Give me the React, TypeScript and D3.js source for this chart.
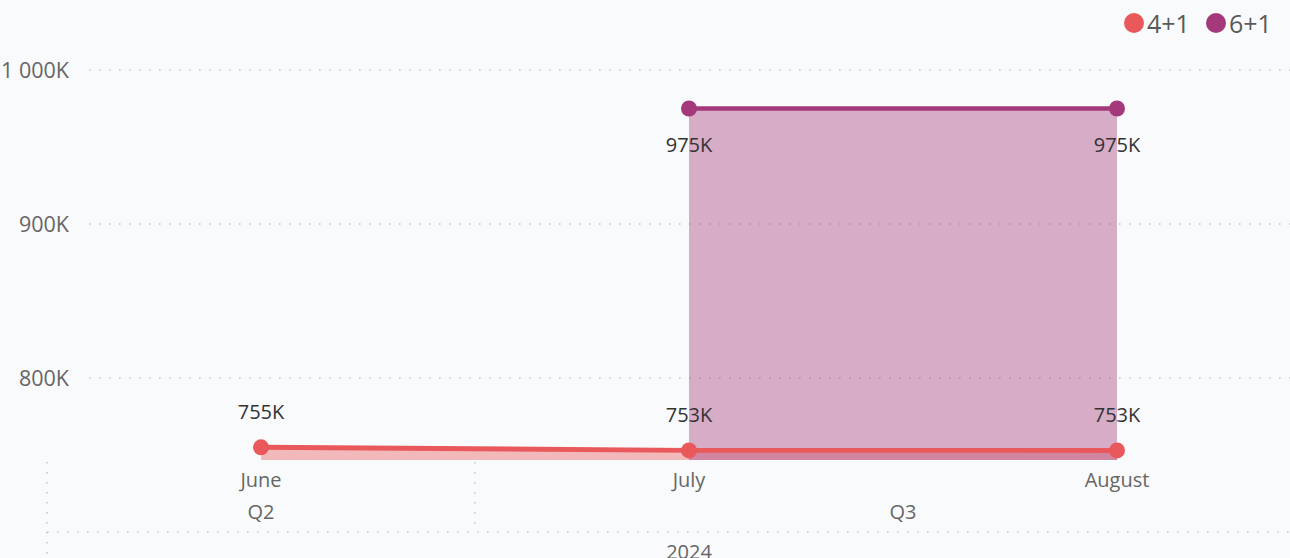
import React from "react";
import * as d3 from "d3";

const months = ["June", "July", "August"];
const quarters = [
  { label: "Q2", months: ["June"] },
  { label: "Q3", months: ["July", "August"] },
];
const year = "2024";
const series41: (number | null)[] = [755000, 753000, 753000];
const series61: (number | null)[] = [null, 975000, 975000];
const yTicks = [800000, 900000, 1000000];
const yTickLabels = ["800K", "900K", "1 000K"];
const legendNames = ["4+1", "6+1"];

const W = 1290;
const H = 558;
const RED = "#E9585B";
const PURPLE = "#A3387B";
const FONT = "'Open Sans', 'Noto Sans', sans-serif";

const fmtK = (v: number) => `${Math.round(v / 1000)}K`;

export default function App() {
  const x = d3.scaleBand<string>().domain(months).range([47, 1331]).padding(0);
  const cx = (m: string) => (x(m) as number) + x.bandwidth() / 2;
  const y = d3.scaleLinear().domain([746750, 1000000]).range([460, 70]);
  const base = y(746750);

  const line = d3
    .line<number | null>()
    .defined((d) => d != null)
    .x((_, i) => cx(months[i]))
    .y((d) => y(d as number));
  const area = d3
    .area<number | null>()
    .defined((d) => d != null)
    .x((_, i) => cx(months[i]))
    .y0(base)
    .y1((d) => y(d as number));

  // dotted grey rule used for gridlines and axis dividers
  const dot = { stroke: "#C8C8C8", strokeWidth: 1.6, strokeDasharray: "1.6 8.4" };

  return (
    <div style={{ position: "fixed", left: 0, top: 0 }}>
      <svg width={W} height={H} style={{ display: "block", fontFamily: FONT }}>
        <rect width={W} height={H} fill="#F9FAFB" />

        {/* gridlines + y labels */}
        {yTicks.map((t, i) => (
          <g key={t}>
            <line x1={89} x2={W} y1={y(t)} y2={y(t)} {...dot} />
            <text x={69} y={y(t) + 8} textAnchor="end" fontSize={21.5} fill="#666">
              {yTickLabels[i]}
            </text>
          </g>
        ))}

        {/* areas */}
        <path d={area(series41) || ""} fill={RED} fillOpacity={0.4} />
        <path d={area(series61) || ""} fill={PURPLE} fillOpacity={0.4} />

        {/* lines */}
        <path d={line(series61) || ""} fill="none" stroke={PURPLE} strokeWidth={4.5} />
        <path d={line(series41) || ""} fill="none" stroke={RED} strokeWidth={5} />

        {/* markers */}
        {series61.map((v, i) =>
          v == null ? null : <circle key={"p" + i} cx={cx(months[i])} cy={y(v)} r={8} fill={PURPLE} />
        )}
        {series41.map((v, i) =>
          v == null ? null : <circle key={"r" + i} cx={cx(months[i])} cy={y(v)} r={8} fill={RED} />
        )}

        {/* data labels */}
        {series41.map((v, i) =>
          v == null ? null : (
            <text key={"lr" + i} x={cx(months[i])} y={y(v) - 28} textAnchor="middle" fontSize={20} fill="#333">
              {fmtK(v)}
            </text>
          )
        )}
        {series61.map((v, i) =>
          v == null ? null : (
            <text key={"lp" + i} x={cx(months[i])} y={y(v) + 44} textAnchor="middle" fontSize={20} fill="#333">
              {fmtK(v)}
            </text>
          )
        )}

        {/* hierarchical x axis */}
        {months.map((m) => (
          <text key={m} x={cx(m)} y={487} textAnchor="middle" fontSize={20} fill="#666">
            {m}
          </text>
        ))}
        {quarters.map((q) => {
          const x0 = x(q.months[0]) as number;
          const x1 = (x(q.months[q.months.length - 1]) as number) + x.bandwidth();
          return (
            <g key={q.label}>
              <text x={(x0 + x1) / 2} y={519} textAnchor="middle" fontSize={20} fill="#666">
                {q.label}
              </text>
              {x0 > 47 && <line x1={x0} x2={x0} y1={462} y2={532} {...dot} />}
            </g>
          );
        })}
        <line x1={47} x2={W} y1={532} y2={532} {...dot} />
        <line x1={47} x2={47} y1={462} y2={H} {...dot} />
        <text x={689} y={559} textAnchor="middle" fontSize={20} fill="#666">
          {year}
        </text>

        {/* legend */}
        {legendNames.map((n, i) => (
          <g key={n} transform={`translate(${[1134, 1216][i]},23)`}>
            <circle r={10} fill={[RED, PURPLE][i]} />
            <text x={13} y={10} fontSize={25} fill="#5A5A5A">
              {n}
            </text>
          </g>
        ))}
      </svg>
    </div>
  );
}
